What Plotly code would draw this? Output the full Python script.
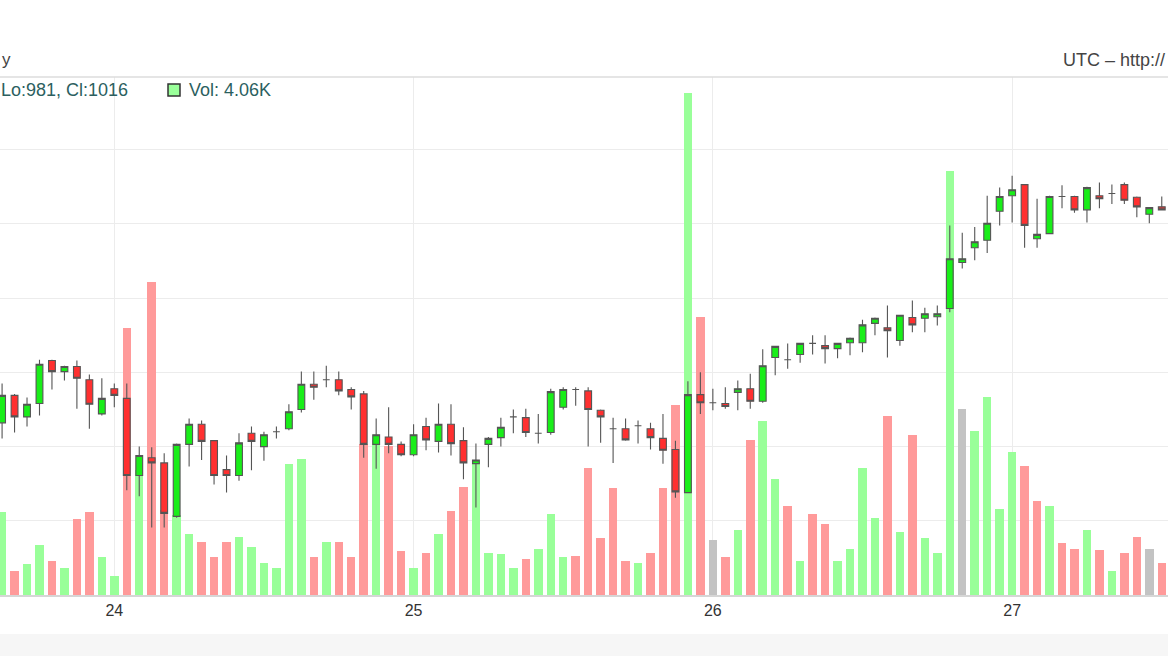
import plotly.graph_objects as go
import pandas as pd

# ---------------- data (hourly candles, 23rd 15:00 -> 27th 12:00) ----------------
start_time = "2017-02-23 15:00"
n_candles = 94

opens = [1003.2, 1006.9, 1004.0, 1005.8, 1011.6, 1010.1, 1010.8, 1009.0, 1004.4, 1007.8,
         1006.5, 996.1, 998.5, 997.8, 990.6, 1000.3, 1003.0, 1000.8, 996.9, 996.1,
         1001.8, 1000.0, 1002.0, 1002.4, 1005.0, 1008.4, 1009.0, 1009.0, 1007.7, 1007.1,
         1000.3, 1001.3, 1000.3, 998.9, 1002.7, 1000.7, 1003.0, 1000.8, 997.7, 1000.3,
         1001.2, 1004.0, 1003.9, 1001.8, 1001.9, 1005.3, 1007.7, 1007.5, 1004.9, 1002.4,
         1002.4, 1002.8, 1002.4, 1001.1, 999.6, 993.8, 1007.0, 1005.9, 1005.8, 1007.3,
         1007.8, 1006.1, 1012.0, 1011.7, 1012.4, 1013.9, 1013.6, 1013.2, 1014.0, 1014.0,
         1016.6, 1016.0, 1014.3, 1017.4, 1017.3, 1017.5, 1018.6, 1024.8, 1026.8, 1027.8,
         1031.7, 1033.8, 1035.3, 1028.0, 1028.7, 1033.7, 1033.7, 1031.9, 1033.8, 1034.1,
         1035.3, 1033.6, 1031.3, 1032.3]

highs = [1008.5, 1007.1, 1006.6, 1011.7, 1011.7, 1010.9, 1011.6, 1009.7, 1009.2, 1008.5,
         1008.5, 1000.0, 999.9, 999.1, 1000.4, 1003.8, 1003.5, 1000.9, 998.8, 1001.8,
         1002.7, 1002.0, 1002.7, 1005.7, 1010.1, 1010.1, 1010.9, 1010.1, 1008.0, 1007.5,
         1003.8, 1005.3, 1000.7, 1003.0, 1003.9, 1005.8, 1005.7, 1002.6, 1000.4, 1001.3,
         1003.9, 1005.0, 1005.1, 1004.4, 1007.8, 1008.0, 1008.0, 1008.0, 1005.0, 1003.9,
         1003.8, 1003.5, 1003.2, 1004.4, 1000.8, 1008.8, 1010.0, 1007.8, 1008.0, 1008.9,
         1009.8, 1013.1, 1013.6, 1013.9, 1014.0, 1015.0, 1015.0, 1014.0, 1014.7, 1017.1,
         1017.4, 1019.0, 1017.7, 1019.7, 1018.7, 1019.0, 1029.8, 1028.8, 1029.6, 1033.8,
         1034.9, 1036.5, 1035.3, 1033.4, 1033.8, 1035.2, 1033.8, 1035.0, 1035.6, 1035.3,
         1035.6, 1033.7, 1032.2, 1033.7]

lows = [1001.1, 1001.9, 1002.7, 1004.2, 1007.7, 1008.9, 1005.1, 1002.4, 1004.2, 1005.3,
        994.1, 993.3, 989.1, 989.1, 990.4, 997.3, 998.2, 994.9, 993.8, 995.4,
        996.8, 998.1, 1001.1, 1002.2, 1004.6, 1006.3, 1008.0, 1006.9, 1005.0, 998.5,
        997.0, 999.1, 998.7, 998.7, 999.5, 999.2, 998.8, 995.6, 991.8, 997.2,
        1000.0, 1001.8, 1001.3, 1000.4, 1001.6, 1005.0, 1005.5, 1000.0, 1000.5, 997.8,
        1000.8, 1000.4, 999.6, 997.7, 993.1, 993.7, 1004.4, 1004.9, 1005.1, 1004.9,
        1005.1, 1005.9, 1009.6, 1010.5, 1011.3, 1012.4, 1011.2, 1011.9, 1012.3, 1012.7,
        1015.0, 1012.0, 1013.6, 1015.4, 1015.4, 1016.3, 1018.1, 1024.0, 1025.1, 1026.1,
        1029.8, 1030.2, 1026.8, 1026.8, 1028.6, 1032.1, 1031.5, 1030.2, 1032.1, 1032.7,
        1032.7, 1030.9, 1030.1, 1031.8]

closes = [1006.9, 1004.0, 1005.7, 1011.1, 1010.1, 1010.8, 1009.2, 1005.7, 1006.5, 1006.9,
          996.1, 998.8, 997.8, 991.0, 1000.3, 1003.0, 1000.7, 996.1, 996.1, 1000.5,
          1000.7, 1001.6, 1002.0, 1004.7, 1008.4, 1008.0, 1009.0, 1007.5, 1006.7, 1000.3,
          1001.6, 1000.3, 998.9, 1001.6, 1000.9, 1003.0, 1000.4, 997.8, 998.2, 1001.1,
          1002.6, 1004.0, 1001.9, 1001.8, 1007.4, 1007.7, 1007.7, 1005.0, 1004.0, 1002.4,
          1000.9, 1002.8, 1001.2, 999.5, 993.9, 1007.0, 1005.9, 1005.9, 1005.4, 1007.8,
          1006.1, 1010.9, 1013.5, 1011.7, 1013.9, 1013.9, 1013.2, 1013.9, 1014.6, 1016.4,
          1017.3, 1015.6, 1017.7, 1016.4, 1017.9, 1017.9, 1025.3, 1025.3, 1027.6, 1030.1,
          1033.7, 1034.6, 1029.8, 1028.6, 1033.7, 1033.7, 1031.9, 1034.9, 1033.4, 1034.1,
          1033.2, 1032.3, 1032.2, 1031.9]

volumes = [830, 240, 310, 500, 340, 270, 760, 830, 380, 190,
           2670, 1250, 3130, 850, 800, 610, 530, 380, 530, 580,
           480, 320, 270, 1310, 1360, 380, 530, 530, 380, 1510,
           1550, 1490, 440, 270, 420, 610, 840, 1080, 1330, 420,
           410, 270, 360, 460, 810, 380, 390, 1270, 570, 1070,
           340, 320, 420, 1070, 1900, 5020, 2780, 550, 380, 650,
           1550, 1740, 1160, 890, 340, 810, 710, 340, 460, 1270,
           770, 1790, 630, 1600, 570, 420, 4240, 1860, 1640, 1980,
           860, 1430, 1290, 940, 890, 520, 460, 650, 450, 240,
           420, 580, 460, 320]

vol_side = ("u d u u d u d d u u "
            "d u d d u u d d d u "
            "u u u u u d u d d d "
            "u d d u d u d d u u "
            "u u d u u u d d d d "
            "d u d d d u d n d u "
            "d u u d u d d u u u "
            "u d u d u u u n u u "
            "u u d d u d d u d u "
            "d d n d").split()

day_ticks = ["2017-02-24", "2017-02-25", "2017-02-26", "2017-02-27"]
day_labels = ["24", "25", "26", "27"]

header_left = "Lo:981, Cl:1016"
header_vol = "Vol: 4.06K"
top_right = "UTC \u2013 http://"
top_left = "y"

# ---------------- styles ----------------
times = pd.date_range(start_time, periods=n_candles, freq="h")
vol_palette = {"u": "#99ff99", "d": "#ff9a9a", "n": "#c3c3c3"}
vol_colors = [vol_palette[s] for s in vol_side]

W, H = 1168, 656
TOP, BOTTOM = 77, 595            # plot area in pixels
PH = BOTTOM - TOP

def py(y):                       # page pixel y -> paper fraction
    return (BOTTOM - y) / PH

def px(x):
    return x / W

FONT = "Liberation Sans, Arial, sans-serif"

fig = go.Figure()

fig.add_trace(go.Bar(
    x=times, y=volumes, marker=dict(color=vol_colors, line=dict(width=0)),
    width=0.68 * 3600000, yaxis="y", hoverinfo="skip", showlegend=False,
))

fig.add_trace(go.Candlestick(
    x=times, open=opens, high=highs, low=lows, close=closes,
    yaxis="y2", hoverinfo="skip", showlegend=False, whiskerwidth=0,
    increasing=dict(fillcolor="#19ee19", line=dict(color="#555555", width=1.1)),
    decreasing=dict(fillcolor="#ff3030", line=dict(color="#555555", width=1.1)),
))

fig.update_layout(
    width=W, height=H,
    margin=dict(l=0, r=0, t=TOP, b=H - BOTTOM, pad=0),
    paper_bgcolor="white", plot_bgcolor="white",
    boxgap=0.22, bargap=0,
    font=dict(family=FONT, color="#333333"),
    xaxis=dict(
        type="date",
        range=["2017-02-23 14:50", "2017-02-27 12:30"],
        tickvals=day_ticks, ticktext=day_labels,
        showgrid=True, gridcolor="#ececec", gridwidth=1,
        showline=True, linecolor="#d6d6d6", linewidth=2,
        ticks="", tickfont=dict(size=16, color="#333333", family=FONT),
        rangeslider=dict(visible=False), zeroline=False, fixedrange=True,
    ),
    yaxis=dict(
        range=[0, 5180], showgrid=False, showticklabels=False,
        zeroline=False, ticks="", fixedrange=True,
    ),
    yaxis2=dict(
        range=[980, 1049.8], overlaying="y", side="right",
        tick0=980, dtick=10, showgrid=True, gridcolor="#ececec", gridwidth=1,
        showticklabels=False, zeroline=False, ticks="", fixedrange=True,
    ),
    shapes=[
        dict(type="line", xref="paper", yref="paper", x0=0, x1=1, y0=1, y1=1,
             line=dict(color="#dcdcdc", width=1.5)),
        dict(type="rect", xref="paper", yref="paper", x0=0, x1=1,
             y0=py(656), y1=py(634), fillcolor="#f6f6f6", line=dict(width=0), layer="below"),
        dict(type="rect", xref="paper", yref="paper", x0=px(168), x1=px(180),
             y0=py(96), y1=py(84), fillcolor="#99ff99", line=dict(color="#333333", width=1.5)),
    ],
    annotations=[
        dict(text=header_left, xref="paper", yref="paper", x=px(-1), y=py(90),
             xanchor="left", yanchor="middle", showarrow=False,
             font=dict(size=18, color="#2c5f5f", family=FONT)),
        dict(text=header_vol, xref="paper", yref="paper", x=px(187), y=py(90),
             xanchor="left", yanchor="middle", showarrow=False,
             font=dict(size=18, color="#2c5f5f", family=FONT)),
        dict(text=top_right, xref="paper", yref="paper", x=px(1167), y=py(60),
             xanchor="right", yanchor="middle", showarrow=False,
             font=dict(size=18, color="#444444", family=FONT)),
        dict(text=top_left, xref="paper", yref="paper", x=px(0), y=py(60),
             xanchor="left", yanchor="middle", showarrow=False,
             font=dict(size=17, color="#444444", family=FONT)),
    ],
)

fig.write_html("out.html", config={"displayModeBar": False, "staticPlot": True})
